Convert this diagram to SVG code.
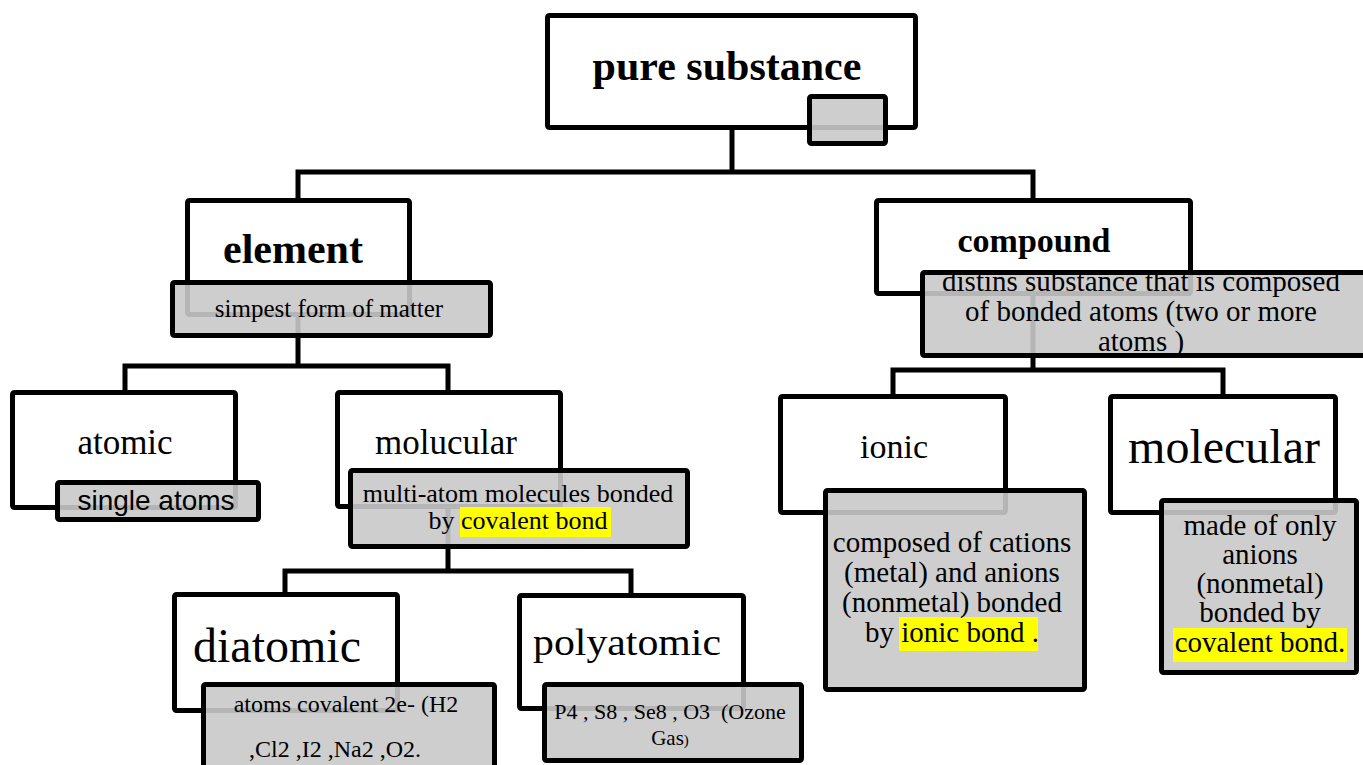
<svg xmlns="http://www.w3.org/2000/svg" width="1363" height="765" viewBox="0 0 1363 765">
<style>
.box{fill:#fff;stroke:#000;stroke-width:5}
.gbox{fill:#c9c9c9;fill-opacity:0.9;stroke:#000;stroke-width:5}
.conn{fill:none;stroke:#000;stroke-width:5;stroke-linejoin:miter}
.t{font-family:"Liberation Serif","Times New Roman",serif;fill:#000;text-anchor:middle}
.b{font-weight:bold}
.s{font-family:"Liberation Sans",Arial,sans-serif}
.hl{fill:#ffff00}
</style>
<rect width="1363" height="765" fill="#fff"/>
<g id="connectors">
<path class="conn" d="M732 70 V172"/>
<path class="conn" d="M298 255 V172 H1033 V250"/>
<path class="conn" d="M298 260 V366"/>
<path class="conn" d="M125 450 V366 H448 V450"/>
<path class="conn" d="M448 450 V571"/>
<path class="conn" d="M285 650 V571 H631 V650"/>
<path class="conn" d="M1033 250 V370"/>
<path class="conn" d="M893 450 V370 H1223 V450"/>
</g>
<g id="pure-substance">
<rect class="box" x="547.5" y="15.5" width="368" height="112" rx="2"/>
<text class="t b" x="727" y="80" font-size="42">pure substance</text>
<rect class="gbox" x="809.5" y="96.5" width="76" height="47" rx="2"/>
</g>
<g id="element">
<rect class="box" x="187.5" y="200.5" width="222" height="114" rx="2"/>
<text class="t b" x="293" y="263" font-size="42">element</text>
<rect class="gbox" x="172.5" y="282.5" width="318" height="53" rx="2"/>
<text class="t" x="329" y="317" font-size="25">simpest form of matter</text>
</g>
<g id="compound">
<rect class="box" x="876.5" y="200.5" width="314" height="93" rx="2"/>
<text class="t b" x="1034" y="252" font-size="34">compound</text>
<rect class="gbox" x="922.5" y="272.5" width="460" height="83" rx="2"/>
<text class="t" x="1141" y="291" font-size="29">distins substance that is composed</text>
<text class="t" x="1141" y="321" font-size="29">of bonded atoms (two or more</text>
<text class="t" x="1141" y="351" font-size="29">atoms )</text>
</g>
<g id="atomic">
<rect class="box" x="12.5" y="392.5" width="223" height="115" rx="2"/>
<text class="t" x="125" y="454" font-size="35">atomic</text>
<rect class="gbox" x="57.5" y="482.5" width="201" height="37" rx="2"/>
<text class="t s" x="156" y="510" font-size="28">single atoms</text>
</g>
<g id="molucular">
<rect class="box" x="337.5" y="392.5" width="223" height="114" rx="2"/>
<text class="t" x="446" y="454" font-size="35">molucular</text>
<rect class="gbox" x="350.5" y="470.5" width="337" height="76" rx="2"/>
<rect class="hl" x="460" y="507" width="151" height="30"/>
<text class="t" x="518" y="502" font-size="26">multi-atom molecules bonded</text>
<text class="t" x="518" y="529" font-size="26">by covalent bond</text>
</g>
<g id="diatomic">
<rect class="box" x="174.5" y="594.5" width="223" height="116" rx="2"/>
<text class="t" x="277" y="662" font-size="48">diatomic</text>
<rect class="gbox" x="203.5" y="684.5" width="291" height="100" rx="2"/>
<text class="t" x="346" y="712" font-size="24">atoms covalent 2e- (H2</text>
<text class="t" x="335" y="757" font-size="24">,Cl2 ,I2 ,Na2 ,O2.</text>
</g>
<g id="polyatomic">
<rect class="box" x="519.5" y="595.5" width="224" height="113" rx="2"/>
<text class="t" x="627" y="655" font-size="37" textLength="188" lengthAdjust="spacingAndGlyphs">polyatomic</text>
<rect class="gbox" x="544.5" y="684.5" width="257" height="76" rx="2"/>
<text class="t" x="670" y="719" font-size="22" xml:space="preserve">P4 , S8 , Se8 , O3  (Ozone</text>
<text class="t" x="670" y="745" font-size="21">Gas<tspan font-size="15">)</tspan></text>
</g>
<g id="ionic">
<rect class="box" x="780.5" y="396.5" width="225" height="116" rx="2"/>
<text class="t" x="894" y="458" font-size="34">ionic</text>
<rect class="gbox" x="825.5" y="490.5" width="259" height="199" rx="2"/>
<rect class="hl" x="899" y="617" width="139" height="34"/>
<text class="t" x="952" y="552" font-size="29">composed of cations</text>
<text class="t" x="952" y="582" font-size="29">(metal) and anions</text>
<text class="t" x="952" y="612" font-size="29">(nonmetal) bonded</text>
<text class="t" x="952" y="642" font-size="29">by ionic bond .</text>
</g>
<g id="molecular">
<rect class="box" x="1110.5" y="396.5" width="225" height="116" rx="2"/>
<text class="t" x="1224" y="463" font-size="48">molecular</text>
<rect class="gbox" x="1161.5" y="500.5" width="195" height="172" rx="2"/>
<rect class="hl" x="1173" y="628" width="174" height="34"/>
<text class="t" x="1260" y="535" font-size="29">made of only</text>
<text class="t" x="1260" y="564" font-size="29">anions</text>
<text class="t" x="1260" y="593" font-size="29">(nonmetal)</text>
<text class="t" x="1260" y="622" font-size="29">bonded by</text>
<text class="t" x="1260" y="652" font-size="29">covalent bond.</text>
</g>
</svg>
